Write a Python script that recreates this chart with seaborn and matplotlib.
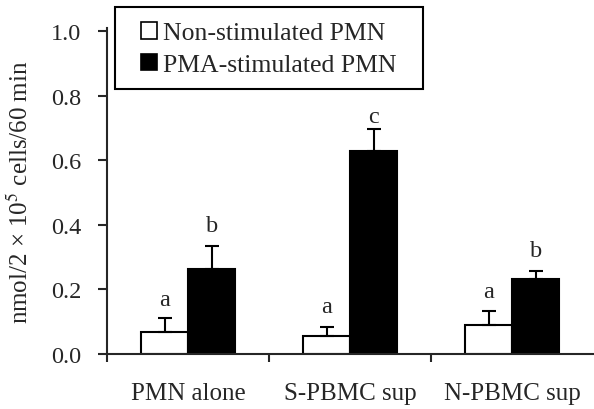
import matplotlib
matplotlib.use("Agg")
import matplotlib.pyplot as plt
import seaborn as sns
import pandas as pd
import numpy as np
from matplotlib.patches import Patch, Rectangle

# Data
groups = ["PMN alone", "S-PBMC sup", "N-PBMC sup"]
series = ["Non-stimulated PMN", "PMA-stimulated PMN"]
non_stim = [0.068, 0.056, 0.091]
non_stim_err = [0.042, 0.028, 0.042]
pma_stim = [0.263, 0.630, 0.232]
pma_stim_err = [0.071, 0.067, 0.025]
non_letters = ["a", "a", "a"]
pma_letters = ["b", "c", "b"]
# baseline heights of the significance letters
non_letter_y = [0.152, 0.130, 0.176]
pma_letter_y = [0.381, 0.718, 0.303]

sns.set_style("ticks")
plt.rcParams["font.family"] = ["Liberation Serif", "DejaVu Serif"]
plt.rcParams["mathtext.fontset"] = "stix"

df = pd.DataFrame({
    "group": groups * 2,
    "series": [series[0]] * 3 + [series[1]] * 3,
    "value": non_stim + pma_stim,
})

fig = plt.figure(figsize=(5.94, 4.10), dpi=100)
ax = fig.add_axes([107 / 594, 55 / 410, 1 - 107 / 594 - 0.001, (355 - 29) / 410])

sns.barplot(data=df, x="group", y="value", hue="series", order=groups,
            hue_order=series, palette=["white", "black"], width=0.58,
            edgecolor="black", linewidth=1.5, errorbar=None, legend=False, ax=ax)

errs = [non_stim_err, pma_stim_err]
vals = [non_stim, pma_stim]
letters = [non_letters, pma_letters]
letter_y = [non_letter_y, pma_letter_y]
bar_containers = list(ax.containers)[:2]
for k, cont in enumerate(bar_containers):
    xs = [b.get_x() + b.get_width() / 2 for b in cont.patches]
    ax.errorbar(xs, vals[k], yerr=[np.zeros(3), errs[k]], fmt="none",
                ecolor="black", elinewidth=1.5, capsize=5, capthick=1.5, zorder=3)
    for x, t, yy in zip(xs, letters[k], letter_y[k]):
        ax.text(x, yy, t, ha="center", va="baseline", fontsize=17.5)

ax.set_ylim(0, 1.0 * 326 / 323)
ax.set_yticks(np.arange(0, 1.01, 0.2))
ax.set_yticklabels([f"{v:.1f}" for v in np.arange(0, 1.01, 0.2)], fontsize=17.5)
ax.set_xlim(-0.5, 2.5)
ax.set_xticks(range(3))
ax.set_xticklabels(groups, fontsize=18)
ax.set_xticks([-0.5, 0.5, 1.5], minor=True)
ax.tick_params(axis="x", which="major", length=0, pad=20)
ax.tick_params(axis="x", which="minor", length=6, width=1.5, direction="out")
ax.tick_params(axis="y", length=6.5, width=1.5, direction="out", pad=12)
ax.set_xlabel("")
ax.set_ylabel("nmol/2 \u00d7 10$^{5}$ cells/60 min", fontsize=18)
ax.yaxis.set_label_coords(-74 / 487, 0.5)
for s in ["left", "bottom"]:
    ax.spines[s].set_linewidth(1.5)
sns.despine(ax=ax)

# legend frame drawn as its own box so its padding matches the reference
fig.patches.append(Rectangle((115 / 594, 1 - 90 / 410), 308 / 594, 82 / 410,
                             transform=fig.transFigure, fill=False,
                             edgecolor="black", linewidth=1.5))
handles = [Patch(facecolor="white", edgecolor="black", linewidth=1.2),
           Patch(facecolor="black", edgecolor="black", linewidth=1.2)]
leg = fig.legend(handles, series, loc="upper left",
                 bbox_to_anchor=(141 / 594, 1 - 23 / 410), fontsize=18.5,
                 frameon=False, handlelength=0.62, handleheight=0.62,
                 handletextpad=0.25, borderpad=0, labelspacing=0.36,
                 borderaxespad=0)

fig.savefig("out.png", dpi=100)
